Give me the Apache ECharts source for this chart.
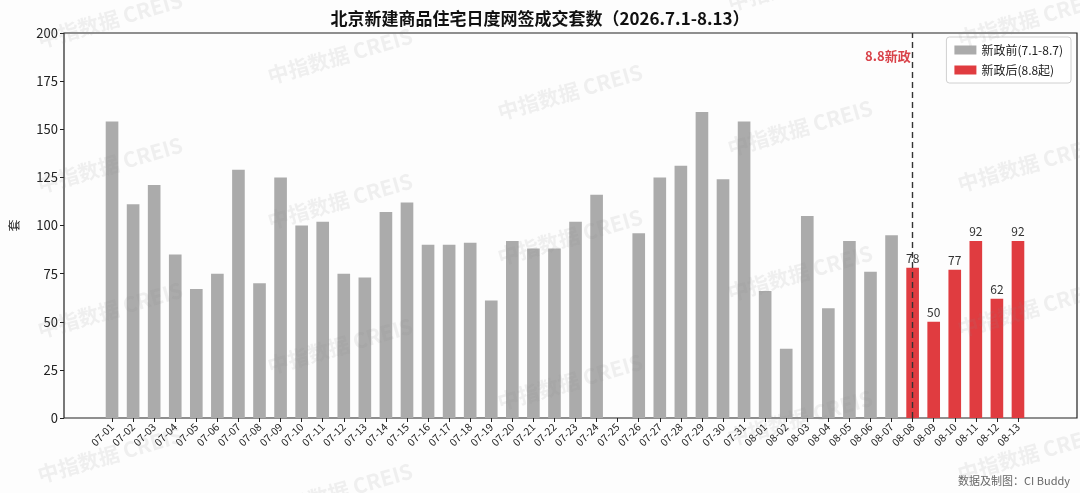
<!DOCTYPE html>
<html>
<head>
<meta charset="utf-8">
<script src="https://cdn.jsdelivr.net/npm/echarts@6/dist/echarts.min.js"></script>
<style>
html,body{margin:0;padding:0;background:#fdfdfd;}
#chart{width:1080px;height:493px;}
</style>
</head>
<body>
<div id="chart"></div>
<script>
const categories = ['07-01','07-02','07-03','07-04','07-05','07-06','07-07','07-08','07-09','07-10',
  '07-11','07-12','07-13','07-14','07-15','07-16','07-17','07-18','07-19','07-20',
  '07-21','07-22','07-23','07-24','07-25','07-26','07-27','07-28','07-29','07-30','07-31',
  '08-01','08-02','08-03','08-04','08-05','08-06','08-07',
  '08-08','08-09','08-10','08-11','08-12','08-13'];
const preValues = [154,111,121,85,67,75,129,70,125,100,
  102,75,73,107,112,90,90,91,61,92,
  88,88,102,116,0,96,125,131,159,124,154,
  66,36,105,57,92,76,95];
const postValues = [78,50,77,92,62,92];
const yTicks = {min:0, max:200, interval:25};
const policyDay = '08-08';
const policyLabel = '8.8新政';
const seriesNames = ['新政前(7.1-8.7)','新政后(8.8起)'];
const titleText = '北京新建商品住宅日度网签成交套数（2026.7.1-8.13）';
const footerText = '数据及制图：CI Buddy';
const watermarkText = '中指数据 CREIS';

const preData = categories.map((c,i)=> i < preValues.length ? preValues[i] : null);
const postData = categories.map((c,i)=> i >= preValues.length ? postValues[i-preValues.length] : null);

const GRAY = '#ababab', RED = '#e03c40';
const font = '"Noto Sans CJK SC","Noto Sans",sans-serif';

const chart = echarts.init(document.getElementById('chart'));

const marks = [];
for (let i=0;i<5;i++){
  for (let j=-1;j<4;j++){
    const cx = 110 + 230*i, cy = 20 + 36*i + 145*j;
    if (cy < -30 || cy > 520) continue;
    marks.push({type:'text', x:cx, y:cy, rotation:0.28, z:100, silent:true,
      style:{text:watermarkText, fill:'rgba(140,140,140,0.12)', font:'bold 21px '+font, align:'center', verticalAlign:'middle'}});
  }
}

function fixedGraphics(extra){
  return marks.concat([
    {type:'text', right:10, bottom:7, style:{text:footerText, fill:'#666', font:'11px '+font}}
  ]).concat(extra||[]);
}

chart.setOption({
  backgroundColor:'#fdfdfd',
  animation:false,
  textStyle:{fontFamily:font},
  title:{text:titleText, left:'center', top:5, textStyle:{fontSize:17, fontWeight:'bold', color:'#111', fontFamily:font}},
  legend:{
    orient:'vertical', right:9, top:37, padding:[7,8,7,8], itemGap:8,
    itemWidth:22, itemHeight:9, icon:'rect', borderColor:'#d0d0d0', borderWidth:1, borderRadius:3,
    backgroundColor:'#fff',
    textStyle:{fontSize:12, color:'#222'},
    data:seriesNames
  },
  grid:[
    {left:60, right:3, top:33, bottom:75, show:true, borderColor:'#222', borderWidth:1.2, backgroundColor:'rgba(0,0,0,0)'},
    {left:101.5, right:51.5, top:33, bottom:75}
  ],
  xAxis:[
    {type:'value', gridIndex:0, min:0, max:1, show:false},
    {type:'category', gridIndex:1, data:categories,
      axisLine:{show:false},
      axisTick:{show:true, alignWithLabel:true, length:4, lineStyle:{color:'#222'}},
      axisLabel:{rotate:45, fontSize:10.5, color:'#222', margin:7, interval:0}}
  ],
  yAxis:[
    {type:'value', gridIndex:0, min:yTicks.min, max:yTicks.max, interval:yTicks.interval,
      name:'套', nameLocation:'middle', nameGap:44, nameRotate:90,
      nameTextStyle:{fontSize:12, color:'#222'},
      axisLine:{show:false}, splitLine:{show:false},
      axisTick:{show:true, length:4, lineStyle:{color:'#222'}},
      axisLabel:{fontSize:13, color:'#222', margin:6}},
    {type:'value', gridIndex:1, min:yTicks.min, max:yTicks.max, show:false}
  ],
  series:[
    {name:seriesNames[0], type:'bar', xAxisIndex:1, yAxisIndex:1, data:preData,
      barWidth:'60%', barGap:'-100%', itemStyle:{color:GRAY}},
    {name:seriesNames[1], type:'bar', xAxisIndex:1, yAxisIndex:1, data:postData,
      barWidth:'60%', barGap:'-100%', itemStyle:{color:RED},
      label:{show:true, position:'top', distance:3, fontSize:12, color:'#333'},
      markLine:{silent:true, symbol:['none','none'], label:{show:false},
        lineStyle:{type:[6,4], color:'#333', width:1.4},
        data:[{xAxis:policyDay}]}, z:3}
  ],
  graphic: fixedGraphics()
});

const px = chart.convertToPixel({xAxisIndex:1}, policyDay);
const py = chart.convertToPixel({yAxisIndex:1}, 188);
chart.setOption({graphic: fixedGraphics([
  {type:'text', x:px-2, y:py, style:{text:policyLabel, fill:'#d9434a', font:'bold 13px '+font, align:'right', verticalAlign:'middle'}}
])}, {replaceMerge:['graphic']});
</script>
</body>
</html>
